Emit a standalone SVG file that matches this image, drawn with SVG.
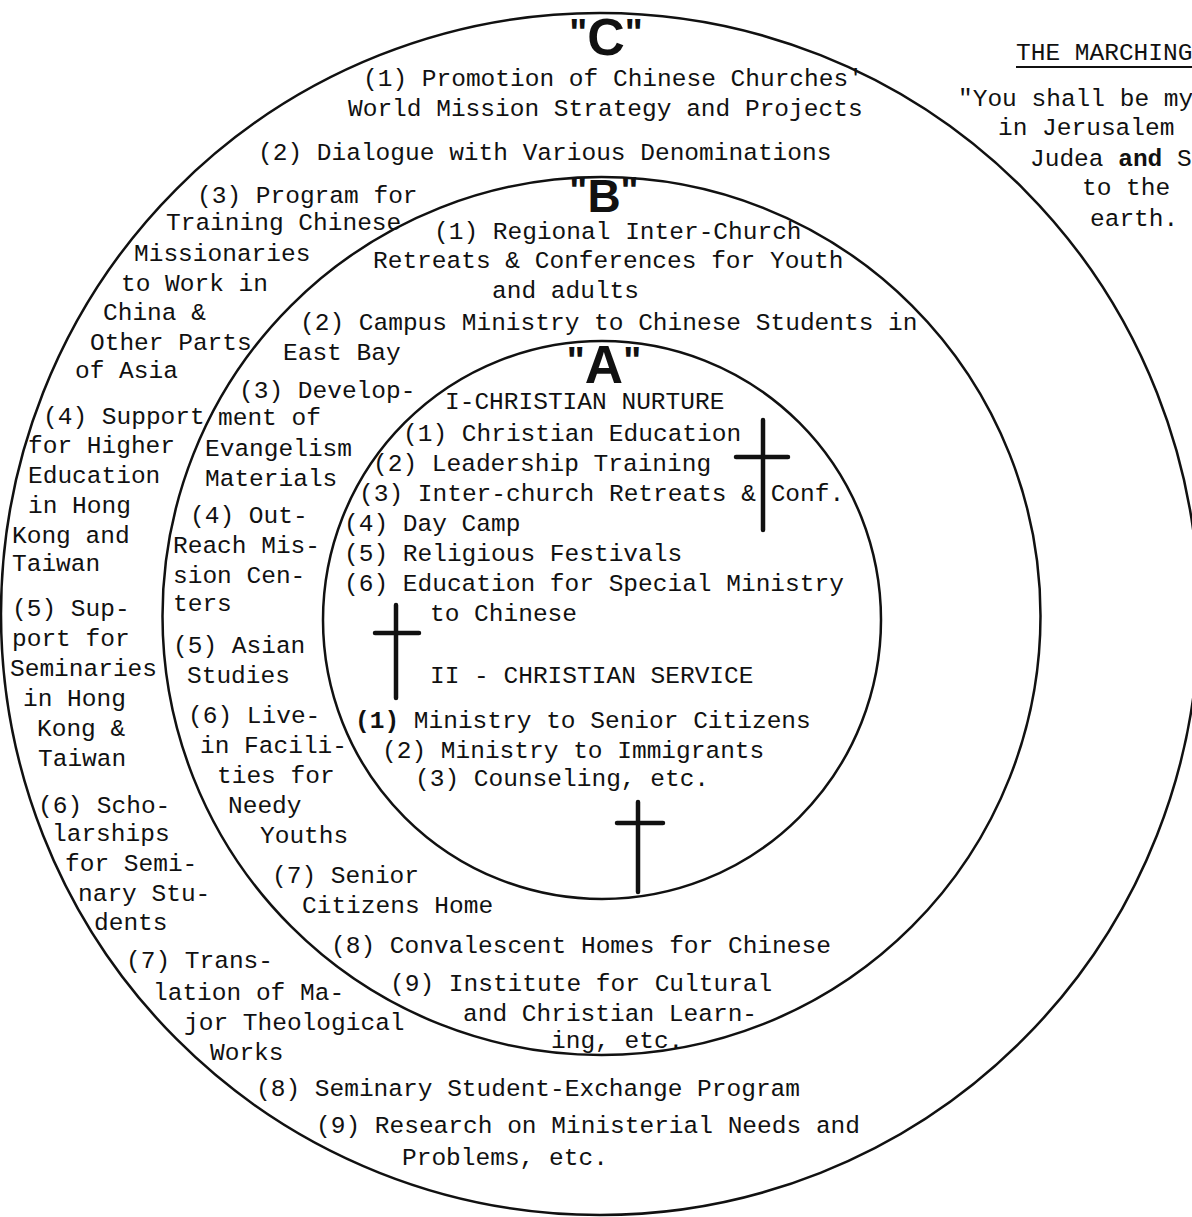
<svg xmlns="http://www.w3.org/2000/svg" width="1192" height="1217" viewBox="0 0 1192 1217">
<style>
.t{font-family:"Liberation Mono","Courier New",monospace;font-size:24.5px;fill:#111}
.ring{fill:none;stroke:#111;stroke-width:2.5}
.lbl{font-family:"Liberation Sans",Arial,sans-serif;font-weight:bold;fill:#111}
.q{font-size:38px}
.cross{stroke:#111;stroke-width:4.5;stroke-linecap:round}
.b{font-weight:bold}
</style>
<rect width="1192" height="1217" fill="#fff"/>
<g id="zone-c">
<ellipse class="ring" cx="600" cy="614" rx="599" ry="601"/>
<text class="lbl" x="606" y="55" font-size="52" text-anchor="middle"><tspan class="q" dy="-9">"</tspan><tspan dy="9">C</tspan><tspan class="q" dy="-9">"</tspan></text>
<text class="t" x="363" y="86">(1) Promotion of Chinese Churches'</text>
<text class="t" x="348" y="116">World Mission Strategy and Projects</text>
<text class="t" x="258" y="160">(2) Dialogue with Various Denominations</text>
<text class="t" x="197" y="203">(3) Program for</text>
<text class="t" x="166" y="230">Training Chinese</text>
<text class="t" x="134" y="261">Missionaries</text>
<text class="t" x="121" y="291">to Work in</text>
<text class="t" x="103" y="320">China &amp;</text>
<text class="t" x="90" y="350">Other Parts</text>
<text class="t" x="75" y="378">of Asia</text>
<text class="t" x="43" y="424">(4) Support</text>
<text class="t" x="28" y="453">for Higher</text>
<text class="t" x="28" y="483">Education</text>
<text class="t" x="28" y="513">in Hong</text>
<text class="t" x="12" y="543">Kong and</text>
<text class="t" x="12" y="571">Taiwan</text>
<text class="t" x="12" y="616">(5) Sup-</text>
<text class="t" x="12" y="646">port for</text>
<text class="t" x="10" y="676">Seminaries</text>
<text class="t" x="23" y="706">in Hong</text>
<text class="t" x="37" y="736">Kong &amp;</text>
<text class="t" x="38" y="766">Taiwan</text>
<text class="t" x="38" y="813">(6) Scho-</text>
<text class="t" x="52" y="841">larships</text>
<text class="t" x="65" y="871">for Semi-</text>
<text class="t" x="78" y="901">nary Stu-</text>
<text class="t" x="94" y="930">dents</text>
<text class="t" x="126" y="968">(7) Trans-</text>
<text class="t" x="153" y="1000">lation of Ma-</text>
<text class="t" x="184" y="1030">jor Theological</text>
<text class="t" x="210" y="1060">Works</text>
<text class="t" x="256" y="1096">(8) Seminary Student-Exchange Program</text>
<text class="t" x="316" y="1133">(9) Research on Ministerial Needs and</text>
<text class="t" x="402" y="1165">Problems, etc.</text>
</g>
<g id="zone-b">
<circle class="ring" cx="601.5" cy="616" r="439"/>
<text class="lbl" x="604" y="212" font-size="46" text-anchor="middle"><tspan class="q" dy="-8">"</tspan><tspan dy="8">B</tspan><tspan class="q" dy="-8">"</tspan></text>
<text class="t" x="434" y="239">(1) Regional Inter-Church</text>
<text class="t" x="373" y="268">Retreats &amp; Conferences for Youth</text>
<text class="t" x="492" y="298">and adults</text>
<text class="t" x="300" y="330">(2) Campus Ministry to Chinese Students in</text>
<text class="t" x="283" y="360">East Bay</text>
<text class="t" x="239" y="398">(3) Develop-</text>
<text class="t" x="218" y="425">ment of</text>
<text class="t" x="205" y="456">Evangelism</text>
<text class="t" x="205" y="486">Materials</text>
<text class="t" x="190" y="523">(4) Out-</text>
<text class="t" x="173" y="553">Reach Mis-</text>
<text class="t" x="173" y="583">sion Cen-</text>
<text class="t" x="173" y="611">ters</text>
<text class="t" x="173" y="653">(5) Asian</text>
<text class="t" x="187" y="683">Studies</text>
<text class="t" x="188" y="723">(6) Live-</text>
<text class="t" x="200" y="753">in Facili-</text>
<text class="t" x="217" y="783">ties for</text>
<text class="t" x="228" y="813">Needy</text>
<text class="t" x="260" y="843">Youths</text>
<text class="t" x="272" y="883">(7) Senior</text>
<text class="t" x="302" y="913">Citizens Home</text>
<text class="t" x="331" y="953">(8) Convalescent Homes for Chinese</text>
<text class="t" x="390" y="991">(9) Institute for Cultural</text>
<text class="t" x="463" y="1021">and Christian Learn-</text>
<text class="t" x="551" y="1048">ing, etc.</text>
</g>
<g id="zone-a">
<circle class="ring" cx="602" cy="620" r="279"/>
<text class="lbl" x="604" y="383" font-size="53" text-anchor="middle"><tspan class="q" dy="-9">"</tspan><tspan dy="9">A</tspan><tspan class="q" dy="-9">"</tspan></text>
<text class="t" x="445" y="409">I-CHRISTIAN NURTURE</text>
<text class="t" x="403" y="441">(1) Christian Education</text>
<text class="t" x="373" y="471">(2) Leadership Training</text>
<text class="t" x="359" y="501">(3) Inter-church Retreats &amp; Conf.</text>
<text class="t" x="344" y="531">(4) Day Camp</text>
<text class="t" x="344" y="561">(5) Religious Festivals</text>
<text class="t" x="344" y="591">(6) Education for Special Ministry</text>
<text class="t" x="430" y="621">to Chinese</text>
<text class="t" x="430" y="683">II - CHRISTIAN SERVICE</text>
<text class="t" x="355" y="728"><tspan class="b">(1)</tspan> Ministry to Senior Citizens</text>
<text class="t" x="382" y="758">(2) Ministry to Immigrants</text>
<text class="t" x="415" y="786">(3) Counseling, etc.</text>
<g id="crosses">
<path class="cross" d="M763 420V530M736 457H788"/>
<path class="cross" d="M396 605V698M375 633H419"/>
<path class="cross" d="M638 802V892M617 823H663"/>
</g>
</g>
<g id="marching">
<text class="t" x="1016" y="60">THE MARCHING</text>
<line x1="1016" y1="67" x2="1192" y2="67" stroke="#111" stroke-width="2"/>
<text class="t" x="958" y="106">"You shall be my</text>
<text class="t" x="998" y="135">in Jerusalem</text>
<text class="t" x="1030" y="166">Judea <tspan class="b">and</tspan> S</text>
<text class="t" x="1082" y="195">to the</text>
<text class="t" x="1090" y="226">earth.</text>
</g>
</svg>
